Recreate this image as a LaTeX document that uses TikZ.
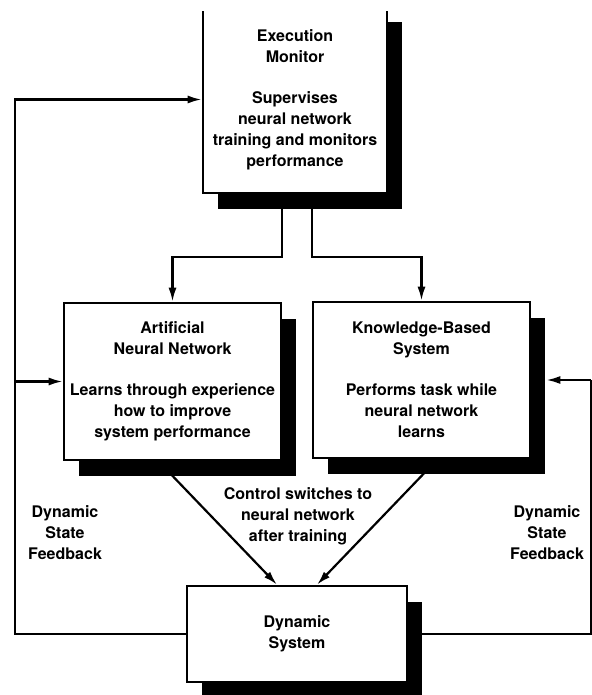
\documentclass[tikz,border=0pt]{standalone}
\usepackage{fontspec}
\setmainfont{TeX Gyre Heros}
\usetikzlibrary{arrows.meta,shadows}

\begin{document}
\begin{tikzpicture}[x=1pt,y=-1pt,line width=2.2pt,
    box/.style={draw,line width=2.6pt,fill=white,align=center,inner sep=0pt,
      font=\fontsize{16}{21}\selectfont\bfseries,
      drop shadow={shadow xshift=15pt,shadow yshift=-16pt,fill=black,opacity=1}},
    lbl/.style={align=center,font=\fontsize{16}{21}\selectfont\bfseries},
    arr/.style={-{Latex[length=14pt,width=8pt]}}]
  \useasboundingbox (0,0) rectangle (591,695);

  % 监控框（上边被裁掉）
  \begin{scope}
    \clip (0,12) rectangle (591,695);
    \node[box,minimum width=184pt,minimum height=187pt] (em) at (295,99.5)
      {Execution\\Monitor\\[20pt]Supervises\\neural network\\training and monitors\\performance};
  \end{scope}

  % 两个中间框
  \node[box,minimum width=217pt,minimum height=157pt] (ann) at (172.5,381.5)
    {Artificial\\Neural Network\\[20pt]Learns through experience\\how to improve\\system performance};
  \node[box,minimum width=217pt,minimum height=156pt] (kbs) at (421.5,380)
    {Knowledge-Based\\System\\[20pt]Performs task while\\neural network\\learns};

  % 底部框
  \node[box,minimum width=220pt,minimum height=96pt] (ds) at (297,634) {Dynamic\\System};

  % 文字
  \node[lbl] (switch) at (298,516) {Control switches to\\neural network\\after training};
  \node[lbl] (fbleft) at (65,533) {Dynamic\\State\\Feedback};
  \node[lbl] (fbright) at (547,533) {Dynamic\\State\\Feedback};

  \coordinate (split) at (0,257);
  \coordinate (fbl) at (15,634);
  \coordinate (fbr) at (591,634);

  % 监控 -> 两个框
  \draw[arr] ([xshift=-13pt]em.south) |- (split -| ann.north) -- (ann.north);
  \draw[arr] ([xshift=17pt]em.south) |- (split -| kbs.north) -- (kbs.north);

  % 控制切换
  \draw[arr] ([xshift=-14pt]ann.south) -- ([xshift=-20pt]ds.north);
  \draw[arr] ([xshift=16pt]kbs.south) -- ([xshift=20pt]ds.north);

  % 反馈
  \draw[arr] (ds.west) -- (fbl) |- (em.west);
  \draw[arr] (fbl |- ann.west) -- (ann.west);
  \draw (ds.east) -- (fbr) -- (fbr |- kbs.east);
  \draw[arr] (fbr |- kbs.east) -- ([xshift=15pt]kbs.east);
\end{tikzpicture}
\end{document}
